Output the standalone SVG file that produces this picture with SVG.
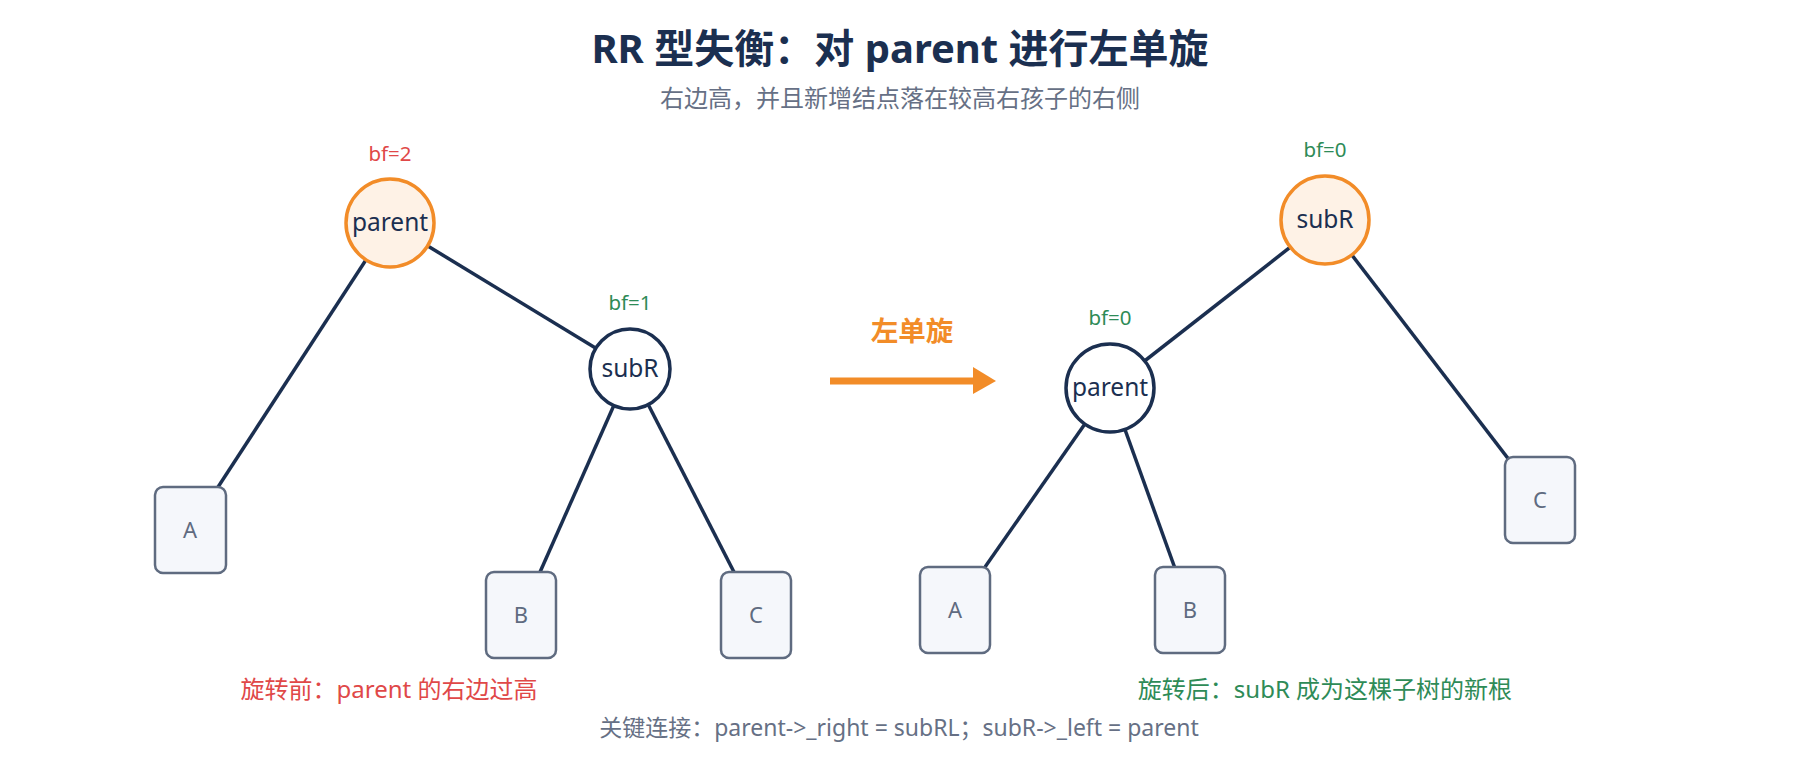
<svg xmlns="http://www.w3.org/2000/svg" width="1800" height="760" viewBox="0 0 1800 760">
<style>
text{font-family:"Noto Sans","Noto Sans CJK SC",sans-serif;text-anchor:middle}
.title{font-size:40px;font-weight:bold;fill:#1b2f50}
.sub{font-size:24px;fill:#667085}
.edge{stroke:#1b2f50;stroke-width:3.5;fill:none}
.hot{fill:#fef2e6;stroke:#f28c28;stroke-width:3.5}
.node{fill:#ffffff;stroke:#1b2f50;stroke-width:3.5}
.nt{font-size:24.5px;fill:#1b2f50}
.box{fill:#f5f7fb;stroke:#5f6b80;stroke-width:2.5}
.bt{font-size:22px;fill:#5f6b80}
.bfr{font-size:20.5px;fill:#e04848}
.bfg{font-size:20.5px;fill:#2e8b57}
.red{font-size:24px;fill:#e04848}
.green{font-size:24px;fill:#2e8b57}
.key{font-size:23px;fill:#667085}
</style>
<rect width="1800" height="760" fill="#ffffff"/>
<text class="title" x="900" y="63">RR 型失衡：对 parent 进行左单旋</text>
<text class="sub" x="900" y="107">右边高，并且新增结点落在较高右孩子的右侧</text>
<g id="connectors">
<line class="edge" x1="390" y1="223" x2="190" y2="530"/>
<line class="edge" x1="390" y1="223" x2="630" y2="369"/>
<line class="edge" x1="630" y1="369" x2="521" y2="615"/>
<line class="edge" x1="630" y1="369" x2="756" y2="615"/>
<line class="edge" x1="1325" y1="220" x2="1110" y2="388"/>
<line class="edge" x1="1325" y1="220" x2="1540" y2="500"/>
<line class="edge" x1="1110" y1="388" x2="955" y2="610"/>
<line class="edge" x1="1110" y1="388" x2="1190" y2="610"/>
</g>
<g id="left-parent">
<text class="bfr" x="390" y="161">bf=2</text>
<circle class="hot" cx="390" cy="223" r="44"/>
<text class="nt" x="390" y="231">parent</text>
</g>
<g id="left-subR">
<text class="bfg" x="630" y="310">bf=1</text>
<circle class="node" cx="630" cy="369" r="40"/>
<text class="nt" x="630" y="377">subR</text>
</g>
<g id="left-A"><rect class="box" x="155" y="487" width="71" height="86" rx="8"/><text class="bt" x="190" y="538">A</text></g>
<g id="left-B"><rect class="box" x="486" y="572" width="70" height="86" rx="8"/><text class="bt" x="521" y="623">B</text></g>
<g id="left-C"><rect class="box" x="721" y="572" width="70" height="86" rx="8"/><text class="bt" x="756" y="623">C</text></g>
<g id="rotate-arrow">
<text x="912" y="341" style="font-size:27.5px;font-weight:bold;fill:#f28c28">左单旋</text>
<line x1="830" y1="381" x2="976" y2="381" stroke="#f28c28" stroke-width="7"/>
<polygon points="973,367 996,381 973,394" fill="#f28c28"/>
</g>
<g id="right-subR">
<text class="bfg" x="1325" y="157">bf=0</text>
<circle class="hot" cx="1325" cy="220" r="44"/>
<text class="nt" x="1325" y="228">subR</text>
</g>
<g id="right-parent">
<text class="bfg" x="1110" y="325">bf=0</text>
<circle class="node" cx="1110" cy="388" r="44"/>
<text class="nt" x="1110" y="396">parent</text>
</g>
<g id="right-A"><rect class="box" x="920" y="567" width="70" height="86" rx="8"/><text class="bt" x="955" y="618">A</text></g>
<g id="right-B"><rect class="box" x="1155" y="567" width="70" height="86" rx="8"/><text class="bt" x="1190" y="618">B</text></g>
<g id="right-C"><rect class="box" x="1505" y="457" width="70" height="86" rx="8"/><text class="bt" x="1540" y="508">C</text></g>
<text class="red" x="389" y="698">旋转前：parent 的右边过高</text>
<text class="green" x="1325" y="698">旋转后：subR 成为这棵子树的新根</text>
<text class="key" x="899" y="736">关键连接：parent-&gt;_right = subRL；subR-&gt;_left = parent</text>
</svg>
